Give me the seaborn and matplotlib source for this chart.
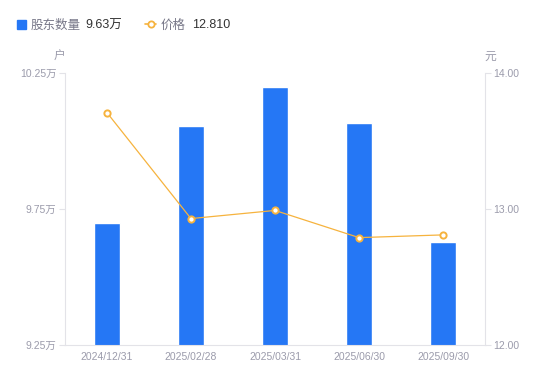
import pandas as pd
import numpy as np
import matplotlib
matplotlib.use('Agg')
import matplotlib.pyplot as plt
import seaborn as sns

# data
dates = ['2024/12/31', '2025/02/28', '2025/03/31', '2025/06/30', '2025/09/30']
holders = [9.70, 10.055, 10.20, 10.065, 9.63]      # 万户
price = [13.71, 12.93, 12.99, 12.79, 12.81]         # 元

left_ticks = [9.25, 9.75, 10.25]
left_labels = ['9.25万', '9.75万', '10.25万']
right_ticks = [12.0, 13.0, 14.0]
right_labels = ['12.00', '13.00', '14.00']

BLUE = '#2577f5'
ORANGE = '#f6b33e'
GREY = '#9b9bab'
AXIS = '#e3e3e8'

sns.set_style("white")
plt.rcParams['font.family'] = ['Liberation Sans', 'Noto Sans CJK SC', 'DejaVu Sans']

df = pd.DataFrame({'date': dates, 'holders': holders, 'price': price})

fig = plt.figure(figsize=(5.5, 3.81), dpi=100)
ax = fig.add_axes([0.118, 0.0945, 0.764, 0.7135])

sns.barplot(data=df, x='date', y='holders', color=BLUE, width=0.3,
            saturation=1, ax=ax)
ax.set_ylim(9.25, 10.25)
ax.set_yticks(left_ticks)
ax.set_yticklabels(left_labels)
ax.set_xlabel('')
ax.set_ylabel('')

ax2 = ax.twinx()
sns.pointplot(data=df, x='date', y='price', color=ORANGE, markers='o',
              linestyles='-', ax=ax2)
for ln in ax2.lines:
    ln.set_linewidth(0.9)
    ln.set_markersize(4.5)
    ln.set_markerfacecolor('white')
    ln.set_markeredgecolor(ORANGE)
    ln.set_markeredgewidth(1.4)
ax2.set_ylim(12.0, 14.0)
ax2.set_yticks(right_ticks)
ax2.set_yticklabels(right_labels)
ax2.set_xlabel('')
ax2.set_ylabel('')
ax.set_xlim(-0.5, 4.5)

for a in (ax, ax2):
    for s in a.spines.values():
        s.set_visible(False)
    a.tick_params(colors=GREY, labelsize=7.5, length=0)
ax.spines['left'].set_visible(True)
ax.spines['left'].set_color(AXIS)
ax.spines['bottom'].set_visible(True)
ax.spines['bottom'].set_color(AXIS)
ax2.spines['right'].set_visible(True)
ax2.spines['right'].set_color(AXIS)
ax.tick_params(axis='y', length=4, color=AXIS, pad=2)
ax2.tick_params(axis='y', length=4, color=AXIS, pad=2)
ax.tick_params(axis='x', pad=5)
ax.grid(False)
ax2.grid(False)

# unit labels
fig.text(59 / 550, 1 - 57 / 381, '户', color=GREY, fontsize=8.5, ha='center', va='center')
fig.text(490 / 550, 1 - 57 / 381, '元', color=GREY, fontsize=8.5, ha='center', va='center')

# legend header
y = 1 - 24 / 381
yt = 1 - 25.5 / 381
fig.patches.append(plt.Rectangle((17 / 550, y - 4.5 / 381), 9 / 550, 9 / 381,
                                 transform=fig.transFigure, color=BLUE, zorder=5))
fig.text(31 / 550, yt, '股东数量', color='#777788', fontsize=9, va='center')
fig.text(85 / 550, yt, '9.63万', color='#333333', fontsize=9, va='center')
fig.lines.append(plt.Line2D([145 / 550, 156 / 550], [y, y], transform=fig.transFigure,
                            color=ORANGE, lw=1.2))
fig.lines.append(plt.Line2D([150.5 / 550], [y], transform=fig.transFigure,
                            color=ORANGE, marker='o', markersize=4.5,
                            markerfacecolor='white', markeredgewidth=1.3))
fig.text(161 / 550, yt, '价格', color='#777788', fontsize=9, va='center')
fig.text(192 / 550, yt, '12.810', color='#333333', fontsize=9, va='center')

plt.savefig('out.png', dpi=100)
